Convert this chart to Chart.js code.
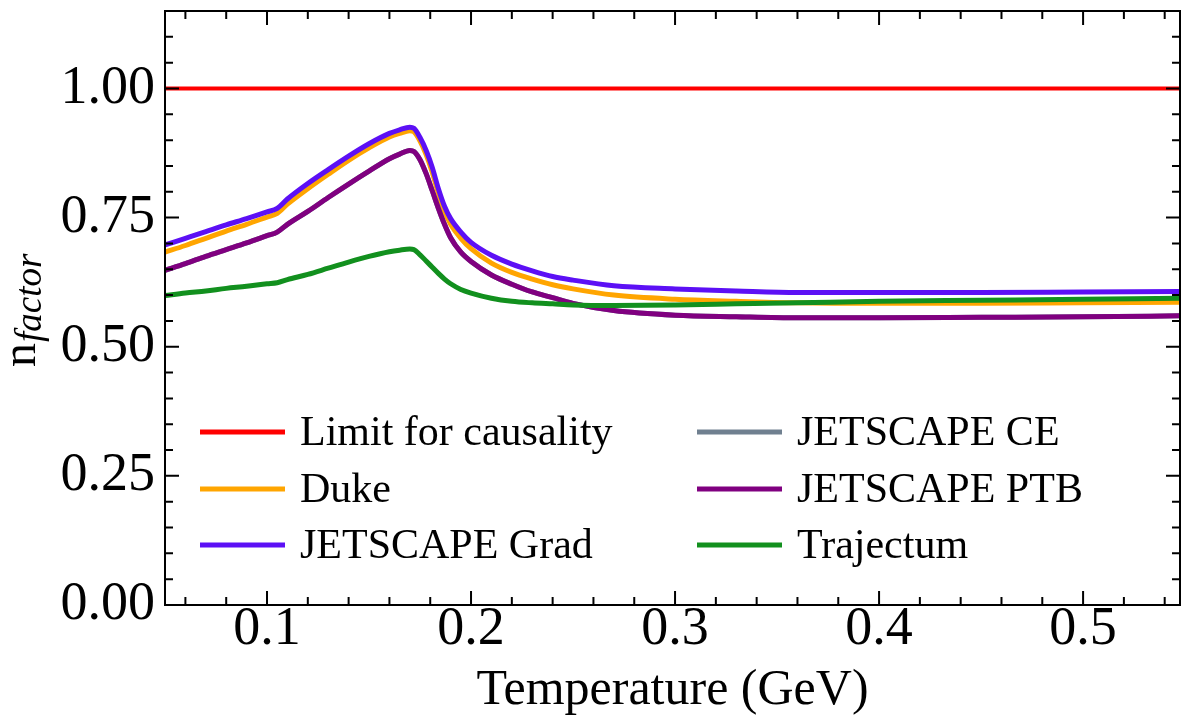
<!DOCTYPE html>
<html>
<head>
<meta charset="utf-8">
<title>n_factor vs temperature</title>
<script src="https://cdn.jsdelivr.net/npm/chart.js"></script>
<style>
  html, body { margin: 0; padding: 0; background: #fff; }
  #wrap { width: 1181px; height: 724px; }
</style>
</head>
<body>
<div id="wrap"><canvas id="nChart" width="1181" height="724"></canvas></div>
<script>
  // Temperature grid (GeV)
  const temps = [0.05, 0.06, 0.07, 0.08, 0.09, 0.10, 0.105, 0.11, 0.12, 0.13, 0.14, 0.15, 0.16, 0.165, 0.17, 0.172,
    0.175, 0.178, 0.181, 0.184, 0.187, 0.19, 0.195, 0.20, 0.21, 0.22, 0.23, 0.24, 0.25, 0.27, 0.30, 0.33, 0.36,
    0.40, 0.45, 0.50, 0.55];

  const limitVals = temps.map(() => 1.0);
  const dukeVals = [0.683, 0.696, 0.710, 0.724, 0.737, 0.751, 0.758, 0.776, 0.806, 0.834, 0.861, 0.885, 0.906, 0.913, 0.918, 0.916,
    0.898, 0.872, 0.838, 0.797, 0.762, 0.737, 0.710, 0.690, 0.662, 0.644, 0.631, 0.620, 0.612, 0.600, 0.592, 0.588, 0.585,
    0.584, 0.584, 0.585, 0.586];
  const gradVals = [0.697, 0.710, 0.723, 0.736, 0.748, 0.761, 0.768, 0.786, 0.816, 0.843, 0.869, 0.893, 0.913, 0.920, 0.925, 0.923,
    0.905, 0.880, 0.847, 0.806, 0.772, 0.748, 0.722, 0.702, 0.677, 0.660, 0.647, 0.636, 0.629, 0.618, 0.612, 0.608, 0.605,
    0.605, 0.605, 0.606, 0.607];
  const ptbVals = [0.648, 0.661, 0.675, 0.688, 0.701, 0.715, 0.722, 0.737, 0.762, 0.789, 0.815, 0.840, 0.864, 0.873, 0.880, 0.878,
    0.862, 0.835, 0.802, 0.768, 0.737, 0.711, 0.683, 0.665, 0.639, 0.621, 0.606, 0.595, 0.584, 0.570, 0.561, 0.558, 0.556,
    0.556, 0.557, 0.558, 0.560];
  // CE sits underneath PTB in the figure
  const ceVals = ptbVals.slice();
  const trajVals = [0.599, 0.604, 0.608, 0.613, 0.617, 0.622, 0.624, 0.630, 0.640, 0.652, 0.664, 0.675, 0.684, 0.687, 0.689, 0.688,
    0.678, 0.666, 0.654, 0.642, 0.631, 0.622, 0.611, 0.604, 0.594, 0.588, 0.585, 0.583, 0.581, 0.580, 0.581, 0.583, 0.585,
    0.588, 0.590, 0.592, 0.594];

  const xTicks = [0.1, 0.2, 0.3, 0.4, 0.5];
  const yTicks = [0.00, 0.25, 0.50, 0.75, 1.00];

  const SERIF = '"Liberation Serif", "DejaVu Serif", serif';
  Chart.defaults.font.family = SERIF;
  Chart.defaults.color = '#000';

  function pts(vals) {
    return temps.map((t, i) => ({ x: t, y: vals[i] }));
  }

  function series(label, vals, color, width, z) {
    return {
      label: label,
      data: pts(vals),
      borderColor: color,
      backgroundColor: color,
      borderWidth: width,
      pointRadius: 0,
      cubicInterpolationMode: 'monotone',
      order: z
    };
  }

  // ticks, frame, legend and y label
  const framePlugin = {
    id: 'framePlugin',
    afterDatasetsDraw(chart) {
      const { ctx, chartArea: a, scales: { x, y } } = chart;
      ctx.save();
      ctx.strokeStyle = '#000';
      ctx.lineWidth = 2;
      ctx.strokeRect(a.left, a.top, a.right - a.left, a.bottom - a.top);

      for (let i = 3; i <= 27; i++) {
        const px = x.getPixelForValue(i * 0.02);
        if (px > a.right) continue;
        const len = i % 5 === 0 ? 14 : 8;
        ctx.beginPath();
        ctx.moveTo(px, a.bottom); ctx.lineTo(px, a.bottom - len);
        ctx.moveTo(px, a.top); ctx.lineTo(px, a.top + len);
        ctx.stroke();
      }
      for (let i = 0; i <= 23; i++) {
        const py = y.getPixelForValue(i * 0.05);
        const len = i % 5 === 0 ? 14 : 8;
        ctx.beginPath();
        ctx.moveTo(a.left, py); ctx.lineTo(a.left + len, py);
        ctx.moveTo(a.right, py); ctx.lineTo(a.right - len, py);
        ctx.stroke();
      }
      ctx.restore();
    },
    afterDraw(chart) {
      const ctx = chart.ctx;
      ctx.save();
      // legend, two columns of three
      const colX = [200, 697];
      const rowY = [432, 489, 545];
      ctx.font = '42px ' + SERIF;
      ctx.textBaseline = 'middle';
      ctx.fillStyle = '#000';
      chart.data.datasets.forEach((ds, i) => {
        const cx = colX[Math.floor(i / 3)];
        const cy = rowY[i % 3];
        ctx.strokeStyle = ds.borderColor;
        ctx.lineWidth = 5;
        ctx.beginPath();
        ctx.moveTo(cx, cy); ctx.lineTo(cx + 85, cy);
        ctx.stroke();
        ctx.fillText(ds.label, cx + 100, cy + 2);
      });

      // y axis label: n with subscript "factor"
      ctx.translate(35, 367);
      ctx.rotate(-Math.PI / 2);
      ctx.textBaseline = 'alphabetic';
      ctx.font = '48px ' + SERIF;
      ctx.fillText('n', 0, 0);
      const w = ctx.measureText('n').width;
      ctx.font = 'italic 37px ' + SERIF;
      ctx.fillText('factor', w + 1, 6);
      ctx.restore();
    }
  };

  const ctx = document.getElementById('nChart').getContext('2d');
  new Chart(ctx, {
    type: 'line',
    data: {
      datasets: [
        series('Limit for causality', limitVals, '#ff0000', 4, 5),
        series('Duke', dukeVals, '#ffa500', 5, 4),
        series('JETSCAPE Grad', gradVals, '#5c10f5', 5, 3),
        series('JETSCAPE CE', ceVals, '#708090', 5, 2),
        series('JETSCAPE PTB', ptbVals, '#800080', 5, 1),
        series('Trajectum', trajVals, '#12901e', 5, 0)
      ]
    },
    options: {
      responsive: false,
      animation: false,
      layout: { padding: { top: 11, right: 1, left: 0, bottom: 0 } },
      plugins: {
        legend: { display: false },
        tooltip: { enabled: false }
      },
      scales: {
        x: {
          type: 'linear',
          min: 0.05,
          max: 0.5475,
          afterBuildTicks: s => { s.ticks = xTicks.map(v => ({ value: v })); },
          afterFit: s => { s.height = 119; s.paddingLeft = 0; s.paddingRight = 0; },
          grid: { display: false, drawTicks: false },
          border: { display: false },
          ticks: {
            font: { size: 54 },
            padding: -8,
            maxRotation: 0,
            callback: v => v.toFixed(1)
          },
          title: {
            display: true,
            text: 'Temperature (GeV)',
            font: { size: 50 },
            padding: { top: 0, bottom: 3 }
          }
        },
        y: {
          min: 0,
          max: 1.15,
          afterBuildTicks: s => { s.ticks = yTicks.map(v => ({ value: v })); },
          afterFit: s => { s.width = 165; s.paddingTop = 0; s.paddingBottom = 0; },
          grid: { display: false, drawTicks: false },
          border: { display: false },
          ticks: {
            font: { size: 54 },
            padding: 10,
            callback: v => v.toFixed(2)
          }
        }
      }
    },
    plugins: [framePlugin]
  });
</script>
</body>
</html>
